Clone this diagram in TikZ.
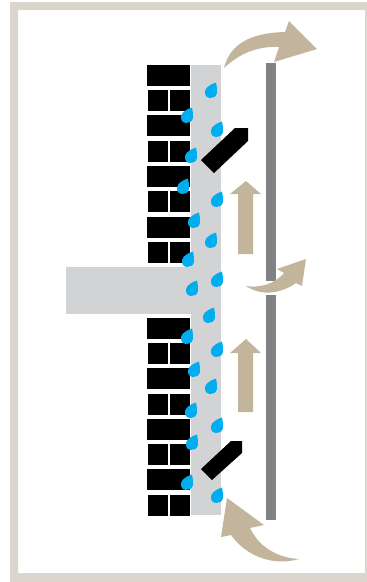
\documentclass[tikz,border=0pt]{standalone}
\definecolor{framegray}{HTML}{DAD6CD}
\definecolor{fillgray}{HTML}{D1D3D4}
\definecolor{panelgray}{HTML}{808285}
\definecolor{airtan}{HTML}{C2B59B}
\definecolor{dropblue}{HTML}{00AEEF}
\tikzset{
  brick/.style={fill=black},
  air/.style={fill=airtan},
  panel/.style={fill=panelgray},
}
\newcommand{\waterdrop}[2]{%
  \fill[dropblue] (#1+5,#2-9.5) .. controls (#1+5.2,#2-6) and (#1+6.8,#2-2.5) .. (#1+6,#2+1)
    .. controls (#1+5,#2+5) and (#1+1.8,#2+6.2) .. (#1-1.2,#2+6)
    .. controls (#1-4.8,#2+5.6) and (#1-6.6,#2+2.4) .. (#1-5.9,#2-1)
    .. controls (#1-5.2,#2-4.8) and (#1,#2-8) .. cycle;
}
\begin{document}
\begin{tikzpicture}[x=1pt,y=-1pt]
\useasboundingbox (0,0) rectangle (367,582);

\fill[framegray,even odd rule] (10,2) rectangle (367,582) (18,10) rectangle (365,573);

\fill[fillgray] (191,65) rectangle (221,515);
\fill[fillgray] (66,267) rectangle (191,314);

\foreach \y in {65,115,166,217,318,368,419,469}
  \fill[brick] (147,\y) rectangle (190,\y+21);
\foreach \y in {90,141,191,242,343,394,444,495}{
  \fill[brick] (148,\y) rectangle (168,\y+21);
  \fill[brick] (170,\y) rectangle (190,\y+21);
}

\foreach \x/\y in {211/92,187/117,217/131,191/157,183/188,217/201,194/222,211/242,
  188/261,217/281,192/290,209/317,187/338,217/351,194/371,211/388,191/412,217/427,
  192/444,187/484,217/497}{
  \waterdrop{\x}{\y}
}

\fill[brick] (201,160)--(235,128)--(248,128)--(248,141)--(214,173)--cycle;
\fill[brick] (201,469)--(231,441)--(242,441)--(242,453)--(212,480)--cycle;

\fill[panel] (266,63) rectangle (276,281);
\fill[panel] (266,295) rectangle (276,520);

\fill[air] (246,181)--(261,194)--(253,194)--(253,254)--(238,254)--(238,194)--(230,194)--cycle;
\fill[air] (246,339)--(261,353)--(253,353)--(253,412)--(238,412)--(238,353)--(230,353)--cycle;

\fill[air] (224,68) .. controls (230,44) and (250,33) .. (285,32)
  --(289,21)--(317,49)--(274,62)--(279,47)
  .. controls (258,46) and (240,53) .. (224,68)--cycle;
\fill[air] (246,286) .. controls (258,288) and (274,285) .. (284,273)
  --(277,269)--(306,259)--(302,286)--(296,283)
  .. controls (282,293) and (262,297) .. (246,286)--cycle;
\fill[air] (299,559) .. controls (280,558) and (260,549) .. (250,528)
  --(264,525)--(227,498)--(221,537)--(231,535)
  .. controls (245,555) and (272,567) .. (299,559)--cycle;
\end{tikzpicture}
\end{document}
